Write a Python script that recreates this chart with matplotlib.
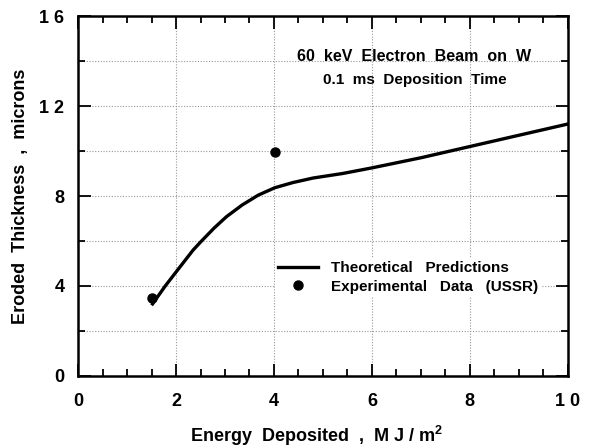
import numpy as np
import matplotlib.pyplot as plt
from matplotlib.ticker import MultipleLocator

plt.rcParams['font.family'] = ['Liberation Sans', 'DejaVu Sans']
plt.rcParams['font.weight'] = 'bold'
plt.rcParams['mathtext.fontset'] = 'custom'
plt.rcParams['mathtext.bf'] = 'Liberation Sans:bold'

# theoretical curve
energy = [1.52, 1.78, 2.0, 2.35, 2.53, 2.78, 3.03, 3.35, 3.68, 4.02, 4.39, 4.80, 5.4, 6.0, 7.0, 8.0, 9.0, 10.0]
thickness = [3.2, 4.0, 4.62, 5.6, 6.02, 6.58, 7.08, 7.6, 8.04, 8.37, 8.6, 8.8, 9.0, 9.25, 9.7, 10.2, 10.7, 11.2]

# experimental points (USSR)
exp_energy = [1.5, 4.03]
exp_thickness = [3.45, 9.95]

xticks = [0, 2, 4, 6, 8, 10]
xlabels = ['0', '2', '4', '6', '8', '1 0']
yticks = [0, 4, 8, 12, 16]
ylabels = ['0', '4', '8', '1 2', '1 6']

fig = plt.figure(figsize=(5.92, 4.48), dpi=100)
ax = fig.add_axes([0.132, 0.161, 0.827, 0.803])

ax.plot(energy, thickness, color='black', lw=2.4, solid_joinstyle='round',
        label='Theoretical   Predictions')
ax.plot(exp_energy, exp_thickness, 'o', color='black', ms=6.5, label='Experimental   Data   (USSR)')

ax.set_xlim(0, 10)
ax.set_ylim(0, 16)
ax.set_xticks(xticks)
ax.set_xticklabels(xlabels)
ax.set_yticks(yticks)
ax.set_yticklabels(ylabels)
ax.xaxis.set_minor_locator(MultipleLocator(0.5))
ax.yaxis.set_minor_locator(MultipleLocator(2))

for v in [2, 4, 6, 8]:
    ax.axvline(v, color='#999999', lw=0.8, ls=(0, (1, 1.5)), zorder=0)
for v in [2, 4, 6, 8, 10, 12, 14]:
    ax.axhline(v, color='#999999', lw=0.8, ls=(0, (1, 1.5)), zorder=0)

ax.tick_params(which='both', direction='in', top=True, right=True, width=1.3)
ax.tick_params(which='major', length=9, labelsize=13)
ax.tick_params(axis='x', which='major', pad=12)
ax.tick_params(axis='y', which='major', pad=10)
ax.tick_params(which='minor', length=5)
for s in ax.spines.values():
    s.set_linewidth(1.8)

fig.text(0.535, 0.013, 'Energy  Deposited  ,  M J / m$\\mathbf{^2}$', fontsize=13,
         fontweight='bold', ha='center', va='baseline')
fig.text(0.034, 0.5625, 'Eroded  Thickness  ,  microns', fontsize=13,
         fontweight='bold', ha='center', va='center', rotation=90)

ax.text(6.86, 14.2, '60  keV  Electron  Beam  on  W', fontsize=11.5, fontweight='bold', ha='center', va='center')
ax.text(6.88, 13.17, '0.1  ms  Deposition  Time', fontsize=11, fontweight='bold', ha='center', va='center')

leg = ax.legend(loc='center left', bbox_to_anchor=(0.402, 0.274), borderaxespad=0, frameon=True,
                fontsize=11, handlelength=2.6, handletextpad=0.85, borderpad=0.2, labelspacing=0.3)
leg.get_frame().set_facecolor('white')
leg.get_frame().set_edgecolor('none')
leg.get_frame().set_alpha(1)

fig.savefig('out.png', dpi=100)
